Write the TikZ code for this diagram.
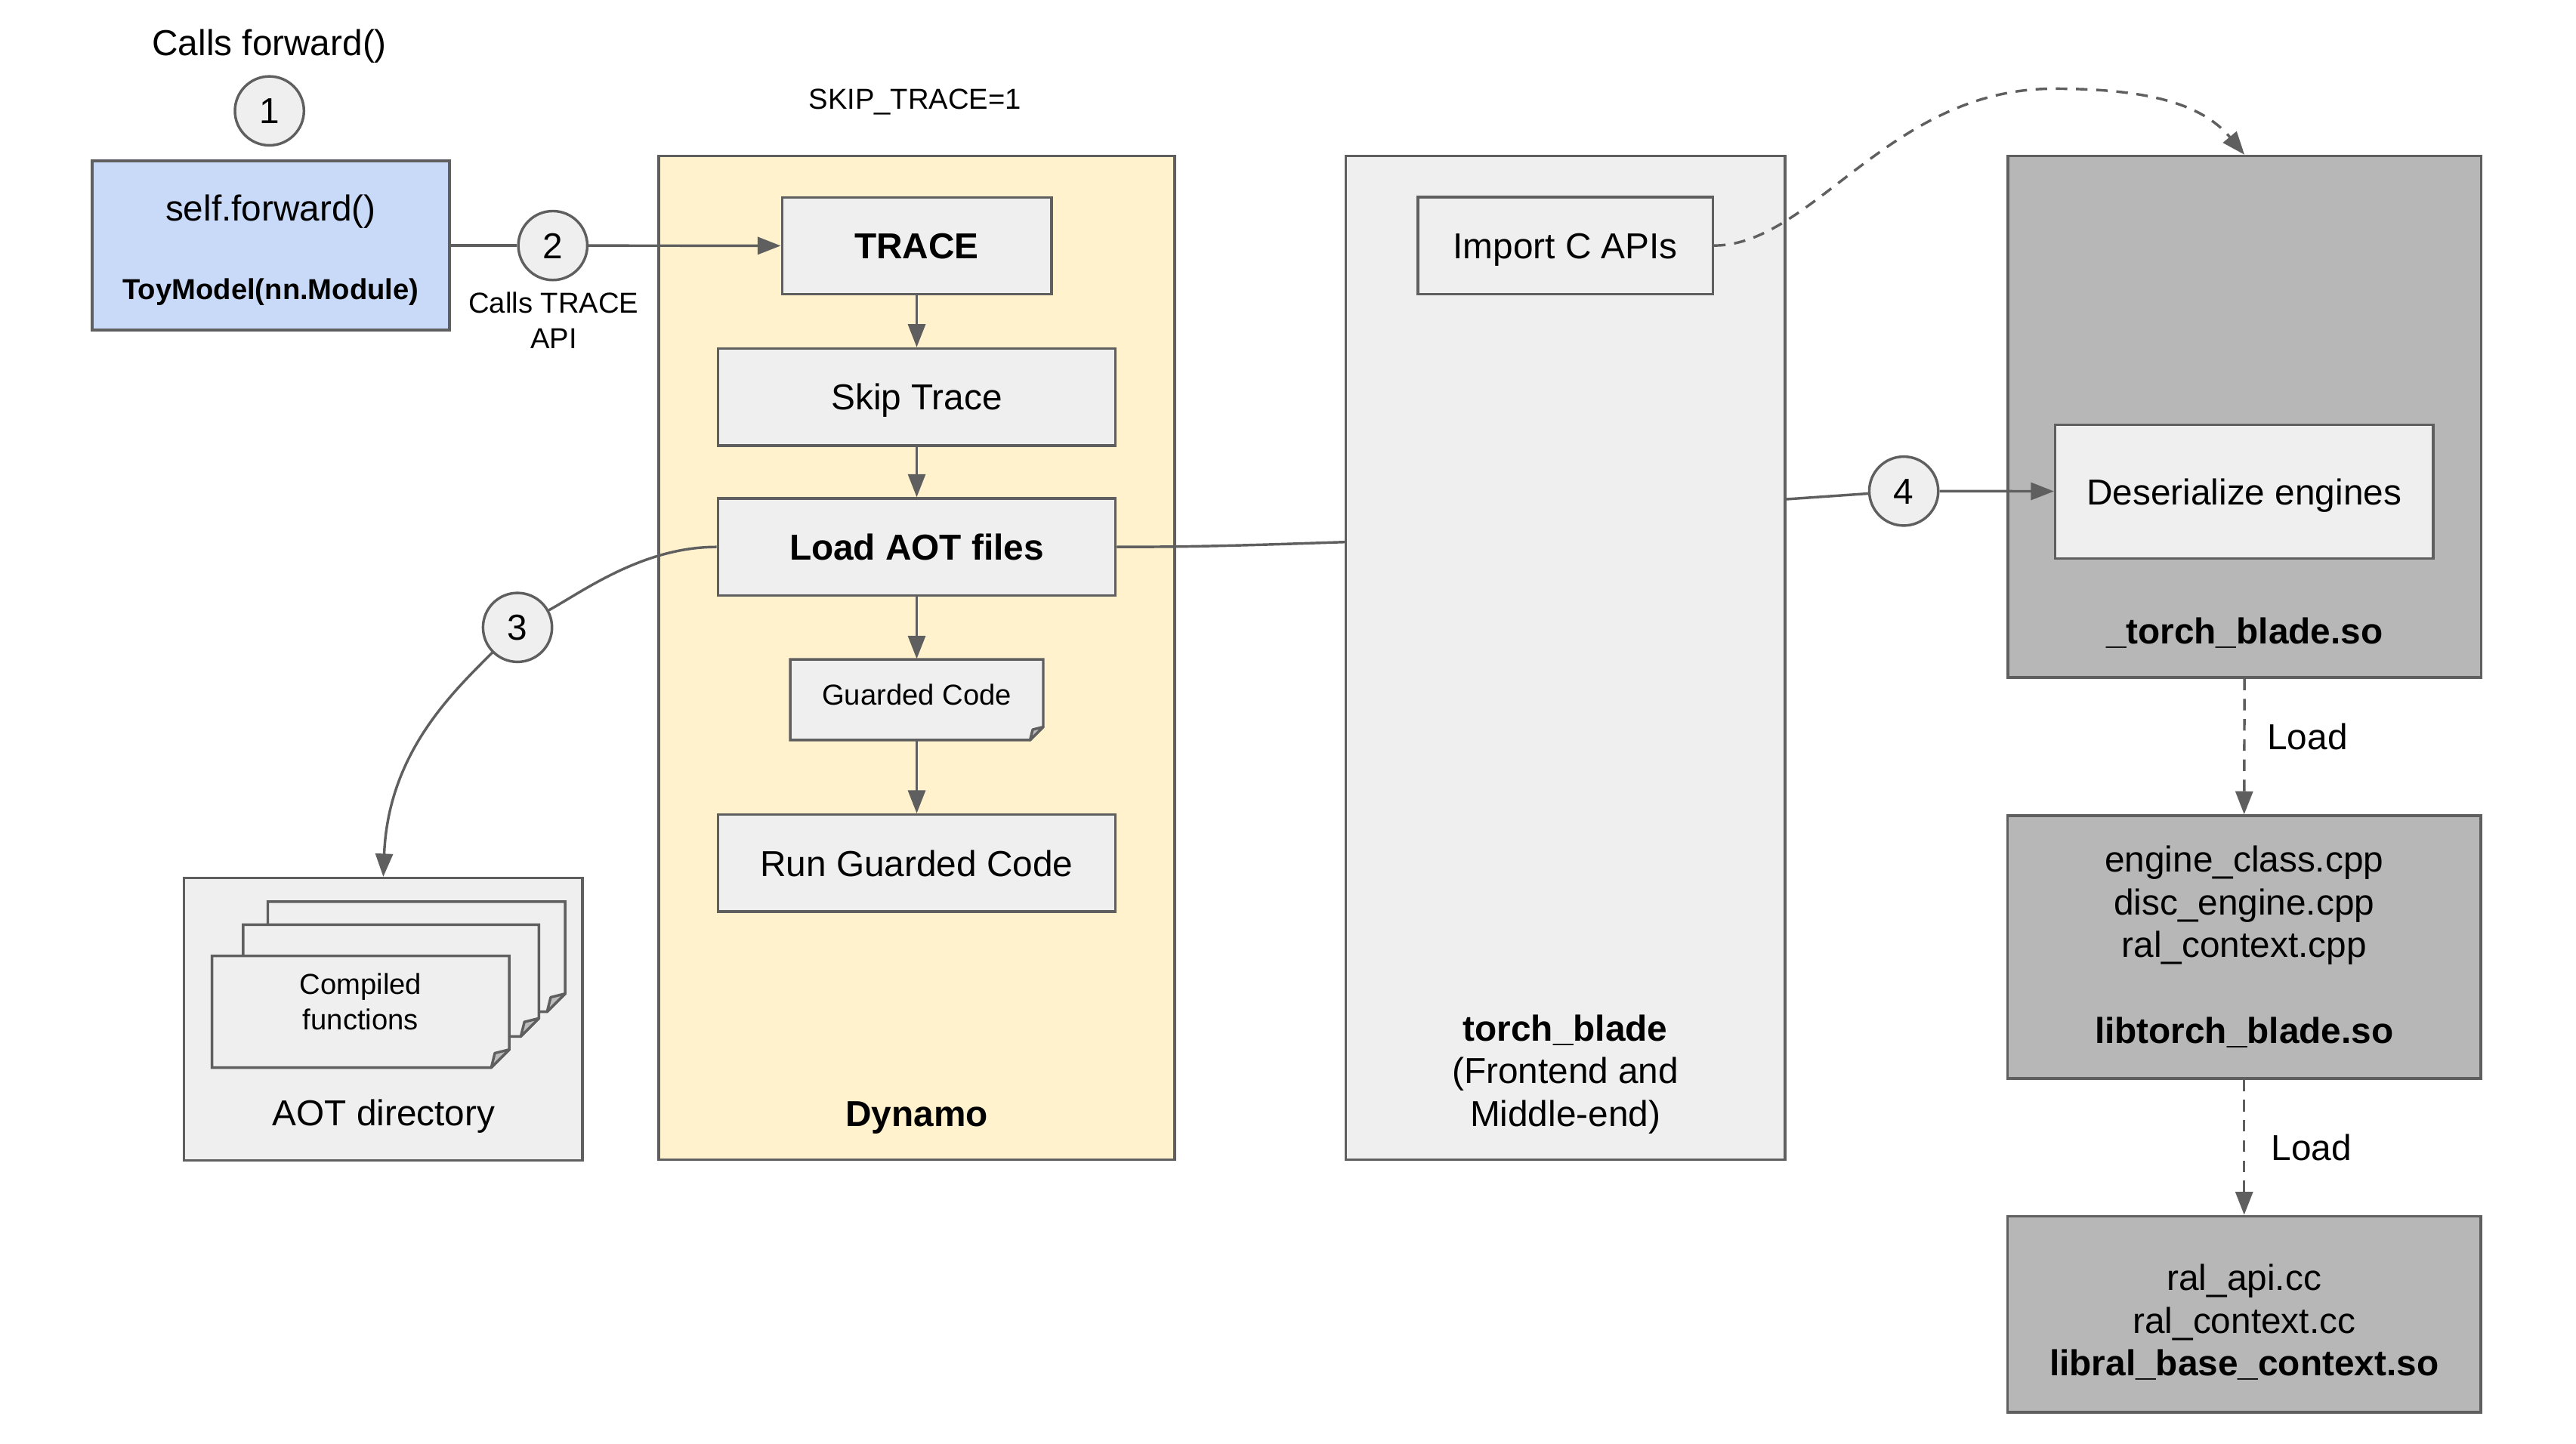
\documentclass[tikz,border=0pt]{standalone}
\usepackage{fontspec}
\setmainfont{Liberation Sans}
\usepackage{xcolor}
\usepackage{tikz}
\usetikzlibrary{arrows.meta, positioning, calc}

\definecolor{modelblue}{HTML}{C9DAF8}
\definecolor{dynamoyellow}{HTML}{FFF2CC}
\definecolor{boxgray}{HTML}{EFEFEF}
\definecolor{sogray}{HTML}{B7B7B7}
\definecolor{linegray}{HTML}{5F5F5F}
\definecolor{foldgray}{HTML}{BDBDBD}

\newcommand{\fmain}{\fontsize{12.5}{14.8}\selectfont}
\newcommand{\fsmall}{\fontsize{10}{12.2}\selectfont}

% note with folded corner: x1, y1 (top), x2, y2 (bottom), fold
\newcommand{\dogear}[5]{%
  \filldraw[notebox] (#1,#2) -- (#3,#2) -- (#3,#4-#5) -- (#3-#5,#4) -- (#1,#4) -- cycle;
  \filldraw[notefold] (#3-#5,#4) -- (#3,#4-#5) -- (#3-0.8*#5,#4-0.8*#5) -- cycle;
}

\begin{document}
\begin{tikzpicture}[
      x=0.02cm, y=-0.02cm,
      oneline/.style ={text height=9pt, text depth=0pt},
      box/.style     ={rectangle, draw=linegray, line width=0.9pt, fill=boxgray, font=\fmain, inner sep=0pt},
      model/.style   ={box, fill=modelblue, minimum width=4.35cm, minimum height=2.06cm},
      flowbox/.style ={box, oneline, minimum width=4.84cm, minimum height=1.18cm},
      sobox/.style   ={box, fill=sogray, minimum width=5.76cm, align=center},
      num/.style     ={circle, draw=linegray, line width=0.9pt, fill=boxgray, minimum size=0.84cm, inner sep=0pt, font=\fmain, oneline},
      conn/.style    ={draw=linegray, line width=0.9pt},
      load/.style    ={conn, dash pattern=on 4pt off 3pt},
      notebox/.style ={draw=linegray, line width=0.9pt, fill=boxgray},
      notefold/.style={draw=linegray, line width=0.9pt, fill=foldgray, line join=round},
      txt/.style     ={font=\fmain, inner sep=0pt, align=center},
      small/.style   ={font=\fsmall, inner sep=0pt, align=center},
      >={Triangle[length=8pt,width=6pt]}
    ]

    \useasboundingbox (0,0) rectangle (1568,879);

    % Modell
    \node[txt, oneline]       (CF1) at (164,26)      {Calls forward()};
    \node[num]                (C1)  at (164,67.5)    {1};
    \node[model]              (TM)  at (164.8,149.5) {};
    \node[txt, oneline]       (TMf) at (164.8,126.7) {self.forward()};
    \node[small, font=\fsmall\bfseries, text height=7.2pt, text depth=0pt] (TMn) at (164.8,176) {ToyModel(nn.Module)};
    \node[num]                (C2)  at (336.5,149.5) {2};
    \node[small]              (CT)  at (337,195)     {Calls TRACE\\API};

    % Dynamo
    \node[small, text height=7.2pt, text depth=0pt] (SK) at (557,60) {SKIP\_TRACE=1};
    \node[box, fill=dynamoyellow, minimum width=6.28cm, minimum height=12.22cm] (DY) at (558,400.5) {};
    \node[txt, oneline, font=\fmain\bfseries] (DYn) at (558,678) {Dynamo};
    \node[flowbox, minimum width=3.28cm, font=\fmain\bfseries] (TR) at (558,149.7) {TRACE};
    \node[flowbox]                        (ST) at (558,241.7) {Skip Trace};
    \node[flowbox, font=\fmain\bfseries]  (LA) at (558,333)   {Load AOT files};
    \dogear{481}{401.5}{635}{450.6}{8}
    \node[small, minimum width=3.08cm, minimum height=0.98cm, text height=7.2pt, text depth=3.4pt] (GC) at (558,426) {Guarded Code};
    \node[flowbox]                        (RG) at (558,525.5) {Run Guarded Code};

    % torch_blade
    \node[box, minimum width=5.35cm, minimum height=12.22cm] (TB) at (952.8,400.5) {};
    \node[txt] (TBn) at (952.8,654) {\textbf{torch\_blade}\\(Frontend and\\Middle-end)};
    \node[flowbox, minimum width=3.59cm] (IC) at (952.8,149.5) {Import C APIs};

    % Delte biblioteker
    \node[sobox, minimum height=6.35cm] (TBS) at (1366.2,253.7) {};
    \node[txt, oneline, font=\fmain\bfseries] (TBSn) at (1366.2,384) {\_torch\_blade.so};
    \node[box, oneline, minimum width=4.6cm, minimum height=1.63cm] (DE) at (1366,299.3) {Deserialize engines};
    \node[num] (C4) at (1158.8,299) {4};
    \node[sobox, minimum height=3.2cm] (LTB) at (1366,576.6)
      {engine\_class.cpp\\disc\_engine.cpp\\ral\_context.cpp\\[15pt]\textbf{libtorch\_blade.so}};
    \node[sobox, minimum height=2.39cm] (LRB) at (1366,800.2) {};
    \node[txt] (LRBn) at (1366,805) {ral\_api.cc\\ral\_context.cc\\\textbf{libral\_base\_context.so}};

    % AOT-katalog
    \node[box, minimum width=4.85cm, minimum height=3.44cm] (AD) at (233.3,620.6) {};
    \dogear{163}{549}{344}{616}{11}
    \dogear{148}{563}{328}{631}{11}
    \dogear{129}{582}{310}{650}{11}
    \node[small] (CFn) at (219.5,610)            {Compiled\\functions};
    \node[txt, oneline] (ADn) at (233.6,677.5)   {AOT directory};
    \node[num]   (C3)  at (315,382)              {3};

    % Koblinger
    \coordinate (TBin)  at (819,330);
    \coordinate (TBout) at (1086.6,304);

    \draw[conn]    (TM) -- (C2);
    \draw[conn,->] (C2) -- (TR);
    \draw[conn,->] (TR) -- (ST);
    \draw[conn,->] (ST) -- (LA);
    \draw[conn,->] (LA) -- (GC);
    \draw[conn,->] (GC) -- (RG);

    \draw[conn]    (LA.west) .. controls +(-45,0) and +(40,-22) .. (C3);
    \draw[conn,->] (C3) .. controls +(-40,40) and +(3,-75) .. (AD.north);

    \draw[conn]    (LA.east) .. controls +(50,0) and +(-60,2) .. (TBin);
    \draw[conn]    (TBout) -- (C4);
    \draw[conn,->] (C4) -- (DE);

    \draw[load,->] (IC.east) .. controls +(60,0) and +(-100,0) .. (1250,54)
                             .. controls +(60,0) and +(-25,-30) .. (TBS.north);

    \draw[load,->] (TBS.south) -- node[midway, right, txt, xshift=7.5pt, yshift=3.4pt] (L1) {Load} (LTB.north);
    \draw[load,->] (LTB.south) -- node[midway, right, txt, xshift=9pt] (L2) {Load} (LRB.north);

  \end{tikzpicture}
\end{document}
